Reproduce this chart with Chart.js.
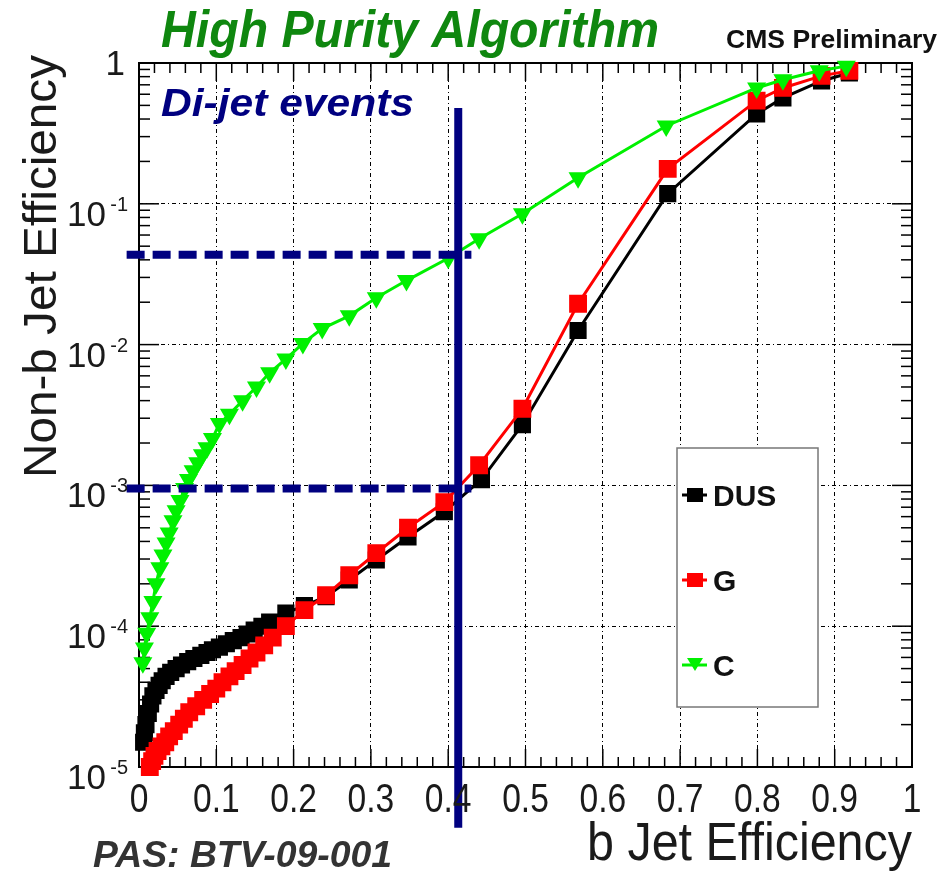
<!DOCTYPE html>
<html>
<head>
<meta charset="utf-8">
<script src="https://cdn.jsdelivr.net/npm/chart.js@4.4.0/dist/chart.umd.min.js"></script>
<style>
  html, body { margin: 0; padding: 0; background: #fff; }
  #wrap { width: 946px; height: 875px; }
</style>
</head>
<body>
<div id="wrap"><canvas id="chart" width="946" height="875"></canvas></div>
<script>
// b jet efficiency vs non-b (mistag) efficiency
const dusEff = [0.006, 0.007, 0.009, 0.012, 0.015, 0.018, 0.022, 0.026, 0.030, 0.035, 0.041, 0.048, 0.055, 0.063, 0.071, 0.080, 0.088, 0.095, 0.104, 0.113, 0.122, 0.132, 0.140, 0.149, 0.159, 0.169, 0.190, 0.214, 0.242, 0.272, 0.307, 0.348, 0.395, 0.443, 0.496, 0.568, 0.684, 0.799, 0.833, 0.883, 0.919];
const dusMistag = [1.5e-5, 1.75e-5, 2.0e-5, 2.4e-5, 2.8e-5, 3.2e-5, 3.5e-5, 3.8e-5, 4.1e-5, 4.4e-5, 4.7e-5, 5.0e-5, 5.3e-5, 5.6e-5, 5.9e-5, 6.2e-5, 6.5e-5, 6.8e-5, 7.1e-5, 7.5e-5, 7.9e-5, 8.3e-5, 8.8e-5, 9.4e-5, 1.0e-4, 1.07e-4, 1.24e-4, 1.4e-4, 1.62e-4, 2.13e-4, 2.95e-4, 4.3e-4, 6.5e-4, 1.1e-3, 2.7e-3, 1.26e-2, 0.118, 0.435, 0.565, 0.745, 0.85];

const gEff = [0.014, 0.017, 0.020, 0.024, 0.029, 0.034, 0.039, 0.045, 0.052, 0.058, 0.065, 0.074, 0.083, 0.092, 0.100, 0.108, 0.117, 0.125, 0.134, 0.143, 0.152, 0.162, 0.173, 0.190, 0.214, 0.242, 0.272, 0.307, 0.348, 0.395, 0.440, 0.496, 0.568, 0.684, 0.799, 0.833, 0.883, 0.919];
const gMistag = [1.0e-5, 1.1e-5, 1.2e-5, 1.3e-5, 1.4e-5, 1.5e-5, 1.65e-5, 1.8e-5, 2.0e-5, 2.2e-5, 2.45e-5, 2.7e-5, 3.0e-5, 3.3e-5, 3.6e-5, 4.0e-5, 4.4e-5, 4.8e-5, 5.3e-5, 5.9e-5, 6.5e-5, 7.3e-5, 8.3e-5, 1.0e-4, 1.3e-4, 1.66e-4, 2.3e-4, 3.3e-4, 5.0e-4, 7.6e-4, 1.39e-3, 3.5e-3, 1.95e-2, 0.177, 0.54, 0.665, 0.81, 0.88];

const cEff = [0.005, 0.007, 0.010, 0.014, 0.018, 0.022, 0.027, 0.031, 0.035, 0.039, 0.044, 0.048, 0.053, 0.059, 0.064, 0.070, 0.076, 0.082, 0.088, 0.095, 0.104, 0.117, 0.134, 0.152, 0.169, 0.190, 0.212, 0.237, 0.272, 0.307, 0.346, 0.400, 0.440, 0.496, 0.568, 0.682, 0.799, 0.833, 0.880, 0.915];
const cMistag = [5.5e-5, 7e-5, 8.9e-5, 1.15e-4, 1.5e-4, 2.0e-4, 2.6e-4, 3.2e-4, 3.9e-4, 4.6e-4, 5.6e-4, 6.6e-4, 7.8e-4, 9.5e-4, 1.1e-3, 1.27e-3, 1.45e-3, 1.65e-3, 1.85e-3, 2.15e-3, 2.75e-3, 3.2e-3, 4.0e-3, 5.0e-3, 6.3e-3, 7.9e-3, 1.02e-2, 1.3e-2, 1.6e-2, 2.15e-2, 2.85e-2, 4.1e-2, 5.65e-2, 8.5e-2, 0.153, 0.357, 0.665, 0.76, 0.88, 0.95];

// axis ticks
const xTickValues = [0, 0.1, 0.2, 0.3, 0.4, 0.5, 0.6, 0.7, 0.8, 0.9, 1];
const xTickLabels = ['0', '0.1', '0.2', '0.3', '0.4', '0.5', '0.6', '0.7', '0.8', '0.9', '1'];
const yTickValues = [1e-5, 1e-4, 1e-3, 1e-2, 1e-1, 1];
const yTickExponents = [-5, -4, -3, -2, -1, 0];

// working point markers (vertical cut + the two mistag levels)
const wpEff = 0.413;
const wpLineTop = 0.48;
const wpLineBottom = 3.7e-6;
const wpMistagC = 0.0435;
const wpMistagL = 0.00095;
const wpLineStart = -0.016;
const wpLineEnd = 0.43;

const NAVY = '#000080';
const FONT = '"Liberation Sans", Arial, Helvetica, sans-serif';

const toPoints = (xs, ys) => xs.map((x, i) => ({x: x, y: ys[i]}));

// draw text squeezed/stretched so it spans a given width
function fitText(ctx, text, x, y, font, width, align) {
  ctx.save();
  ctx.font = font;
  const w = ctx.measureText(text).width;
  ctx.translate(x, y);
  ctx.scale(width / w, 1);
  ctx.textAlign = 'left';
  ctx.textBaseline = 'alphabetic';
  ctx.fillText(text, align === 'right' ? -w : (align === 'center' ? -w / 2 : 0), 0);
  ctx.restore();
}

function line(ctx, x1, y1, x2, y2) {
  ctx.beginPath();
  ctx.moveTo(x1, y1);
  ctx.lineTo(x2, y2);
  ctx.stroke();
}

const rootStyle = {
  id: 'rootStyle',
  beforeDatasetsDraw(chart) {
    const ctx = chart.ctx, a = chart.chartArea;
    const xs = chart.scales.x, ys = chart.scales.y;
    ctx.save();
    ctx.strokeStyle = '#000';
    ctx.lineWidth = 1.5;
    // x ticks, pointing inwards, on bottom and top
    for (let i = 0; i <= 50; i++) {
      const px = xs.getPixelForValue(i / 50);
      const len = i % 5 === 0 ? 18 : 10;
      line(ctx, px, a.bottom, px, a.bottom - len);
      line(ctx, px, a.top, px, a.top + len);
    }
    // y ticks (log), left and right
    for (let e = -5; e < 0; e++) {
      for (let m = 1; m < 10; m++) {
        const py = ys.getPixelForValue(m * Math.pow(10, e));
        const len = m === 1 ? 20 : 11;
        line(ctx, a.left, py, a.left + len, py);
        line(ctx, a.right, py, a.right - len, py);
      }
    }
    ctx.lineWidth = 2;
    ctx.strokeRect(a.left, a.top, a.right - a.left, a.bottom - a.top);
    ctx.restore();
  },
  afterDraw(chart) {
    const ctx = chart.ctx, a = chart.chartArea;
    const xs = chart.scales.x, ys = chart.scales.y;
    ctx.save();

    // x tick labels
    ctx.fillStyle = '#1a1a1a';
    xTickValues.forEach((v, i) => {
      const px = xs.getPixelForValue(v);
      ctx.save();
      ctx.font = '40px ' + FONT;
      ctx.translate(px, a.bottom + 45);
      ctx.scale(0.84, 1);
      ctx.textAlign = 'center';
      ctx.fillText(xTickLabels[i], 0, 0);
      ctx.restore();
    });

    // y tick labels 10^n
    yTickValues.forEach((v, i) => {
      const py = ys.getPixelForValue(v);
      const ex = yTickExponents[i];
      ctx.textAlign = 'right';
      if (ex === 0) {
        ctx.font = '35px ' + FONT;
        ctx.fillText('1', 125, py + 12);
      } else {
        ctx.font = '35px ' + FONT;
        ctx.fillText('10', 106, py + 22);
        ctx.font = '20px ' + FONT;
        ctx.fillText(String(ex), 128, py + 7);
      }
    });

    // axis titles
    ctx.fillStyle = '#1a1a1a';
    fitText(ctx, 'b Jet Efficiency', a.right, 860, '54px ' + FONT, 325, 'right');
    ctx.save();
    ctx.translate(56, 478);
    ctx.rotate(-Math.PI / 2);
    fitText(ctx, 'Non-b Jet Efficiency', 0, 0, '46px ' + FONT, 423, 'left');
    ctx.restore();

    // titles and captions
    ctx.fillStyle = '#0f870f';
    fitText(ctx, 'High Purity Algorithm', 161, 47, 'italic bold 52px ' + FONT, 498, 'left');
    ctx.fillStyle = '#111';
    fitText(ctx, 'CMS Preliminary', 726, 48, 'bold 25px ' + FONT, 211, 'left');
    ctx.fillStyle = NAVY;
    fitText(ctx, 'Di-jet events', 161, 116, 'italic bold 38px ' + FONT, 253, 'left');
    ctx.fillStyle = '#333';
    fitText(ctx, 'PAS: BTV-09-001', 93, 867, 'italic bold 37px ' + FONT, 299, 'left');

    // legend box
    const lx = 677, ly = 448, lw = 141, lh = 259;
    ctx.fillStyle = '#fff';
    ctx.fillRect(lx, ly, lw, lh);
    ctx.strokeStyle = '#777';
    ctx.lineWidth = 1.5;
    ctx.strokeRect(lx, ly, lw, lh);
    const rows = [495, 580, 665];
    chart.data.datasets.filter(d => d.legendRow !== undefined).forEach(d => {
      const y = rows[d.legendRow];
      ctx.strokeStyle = d.borderColor;
      ctx.fillStyle = d.borderColor;
      ctx.lineWidth = 3;
      line(ctx, lx + 5, y, lx + 30, y);
      if (d.pointStyle === 'triangle') {
        ctx.beginPath();
        ctx.moveTo(lx + 10, y - 7);
        ctx.lineTo(lx + 26, y - 7);
        ctx.lineTo(lx + 18, y + 6);
        ctx.closePath();
        ctx.fill();
      } else {
        ctx.fillRect(lx + 10, y - 7, 16, 14);
      }
      ctx.fillStyle = '#111';
      ctx.font = 'bold 30px ' + FONT;
      ctx.textAlign = 'left';
      ctx.fillText(d.label, lx + 36, y + 11);
    });
    ctx.restore();
  }
};

const seriesStyle = (color, style, radius) => ({
  borderColor: color,
  backgroundColor: color,
  pointBackgroundColor: color,
  pointBorderColor: color,
  pointStyle: style,
  pointRadius: radius,
  borderWidth: 3,
  tension: 0,
  clip: false
});

const wpStyle = dash => ({
  borderColor: NAVY,
  borderWidth: 8,
  borderDash: dash,
  borderCapStyle: 'butt',
  pointRadius: 0,
  tension: 0,
  clip: false,
  order: 0
});

new Chart(document.getElementById('chart'), {
  type: 'line',
  data: {
    datasets: [
      Object.assign({label: 'DUS', legendRow: 0, data: toPoints(dusEff, dusMistag), order: 3}, seriesStyle('#000000', 'rect', 10)),
      Object.assign({label: 'G', legendRow: 1, data: toPoints(gEff, gMistag), order: 2}, seriesStyle('#ff0000', 'rect', 10.5)),
      Object.assign({label: 'C', legendRow: 2, data: toPoints(cEff, cMistag), order: 1, pointRotation: 180}, seriesStyle('#00f000', 'triangle', 8)),
      Object.assign({label: '', data: [{x: wpEff, y: wpLineTop}, {x: wpEff, y: wpLineBottom}]}, wpStyle([])),
      Object.assign({label: '', data: [{x: wpLineStart, y: wpMistagC}, {x: wpLineEnd, y: wpMistagC}]}, wpStyle([18, 8])),
      Object.assign({label: '', data: [{x: wpLineStart, y: wpMistagL}, {x: wpLineEnd, y: wpMistagL}]}, wpStyle([18, 8]))
    ]
  },
  options: {
    responsive: false,
    animation: false,
    layout: {padding: {left: 139, right: 34, top: 63, bottom: 108}},
    plugins: {legend: {display: false}, tooltip: {enabled: false}},
    scales: {
      x: {
        type: 'linear',
        min: 0,
        max: 1,
        afterBuildTicks: s => { s.ticks = xTickValues.map(v => ({value: v})); },
        ticks: {display: false},
        grid: {color: '#000', lineWidth: 1, drawTicks: false},
        border: {display: false, dash: [4, 3, 1, 3]}
      },
      y: {
        type: 'logarithmic',
        min: 1e-5,
        max: 1,
        afterBuildTicks: s => { s.ticks = yTickValues.map(v => ({value: v})); },
        ticks: {display: false},
        grid: {color: '#000', lineWidth: 1, drawTicks: false},
        border: {display: false, dash: [4, 3, 1, 3]}
      }
    }
  },
  plugins: [rootStyle]
});
</script>
</body>
</html>
